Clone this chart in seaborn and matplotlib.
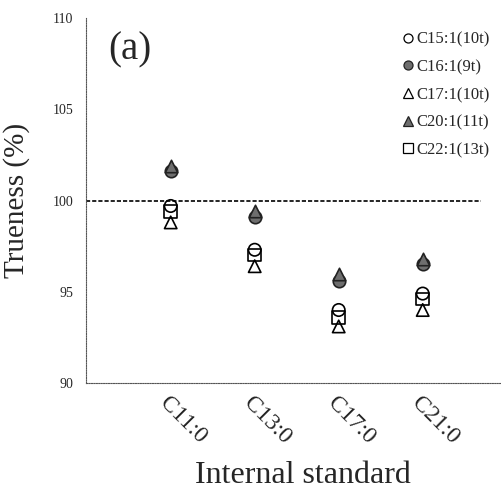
import matplotlib
matplotlib.use("Agg")
import matplotlib.pyplot as plt
import seaborn as sns
import pandas as pd
from matplotlib.lines import Line2D

sns.set_style("white")
plt.rcParams['font.family'] = ['Liberation Serif', 'DejaVu Serif']

categories = ["C11:0", "C13:0", "C17:0", "C21:0"]
c15_1 = [99.7, 97.3, 94.0, 94.9]
c16_1 = [101.6, 99.1, 95.6, 96.5]
c17_1 = [98.8, 96.4, 93.1, 94.0]
c20_1 = [101.9, 99.4, 96.0, 96.8]
c22_1 = [99.4, 97.0, 93.6, 94.6]
series_names = ["C15:1(10t)", "C16:1(9t)", "C17:1(10t)", "C20:1(11t)", "C22:1(13t)"]
series_values = [c15_1, c16_1, c17_1, c20_1, c22_1]
y_ticks = [90, 95, 100, 105, 110]

styles = {
    "C15:1(10t)": dict(marker="o", facecolor="none", edgecolor="black"),
    "C16:1(9t)": dict(marker="o", facecolor="#6e6e6e", edgecolor="#222222"),
    "C17:1(10t)": dict(marker="^", facecolor="none", edgecolor="black"),
    "C20:1(11t)": dict(marker="^", facecolor="#6e6e6e", edgecolor="#222222"),
    "C22:1(13t)": dict(marker="s", facecolor="none", edgecolor="black"),
}

fig = plt.figure(figsize=(5.02, 5.0), dpi=100)
ax = fig.add_axes([0.171, 0.234, 0.825, 0.730])

order = ["C17:1(10t)", "C15:1(10t)", "C22:1(13t)", "C16:1(9t)", "C20:1(11t)"]
for name in order:
    vals = series_values[series_names.index(name)]
    df = pd.DataFrame({"IS": categories, "v": vals})
    st = styles[name]
    sns.scatterplot(data=df, x="IS", y="v", ax=ax, marker=st["marker"], s=80,
                    facecolor=st["facecolor"], edgecolor=st["edgecolor"], linewidth=1.2,
                    zorder=3)

ax.axhline(100, xmin=0, xmax=0.955, color="black", linestyle=(0, (2.5, 1.2)), linewidth=1.2)

ax.set_ylim(90, 110)
ax.set_xlim(-1.01, 3.92)
ax.set_yticks(y_ticks)
ax.set_yticklabels([str(t) for t in y_ticks], fontsize=10)
ax.set_xticks(range(len(categories)))
ax.set_xticklabels(categories, fontsize=17, rotation=-45, ha="left", va="top", rotation_mode="anchor")
ax.tick_params(axis="y", direction="in", length=3, width=0.6, pad=9)
ax.tick_params(axis="x", direction="in", length=3, width=0.6, pad=7)

for side in ["top", "right"]:
    ax.spines[side].set_visible(False)
for side in ["left", "bottom"]:
    ax.spines[side].set_linestyle((0, (1, 1.2)))
    ax.spines[side].set_linewidth(0.8)
    ax.spines[side].set_color("#555555")

ax.set_xlabel("Internal standard", fontsize=23)
ax.xaxis.set_label_coords(0.524, -0.213)
ax.set_ylabel("Trueness (%)", fontsize=21, labelpad=16)

ax.text(0.055, 0.962, "(a)", transform=ax.transAxes, fontsize=28, va="top", ha="left")

handles = []
for name in series_names:
    st = styles[name]
    handles.append(Line2D([], [], linestyle="none", marker=st["marker"], markersize=6.5,
                          markerfacecolor=st["facecolor"] if st["facecolor"] != "none" else "white",
                          markeredgecolor=st["edgecolor"], markeredgewidth=0.9))
leg = ax.legend(handles, series_names, loc="upper right", bbox_to_anchor=(1.0, 0.99),
                frameon=False, fontsize=12, handletextpad=0.0, labelspacing=0.7,
                handlelength=1.0, borderaxespad=0.2)

fig.savefig("out.png", dpi=100)
